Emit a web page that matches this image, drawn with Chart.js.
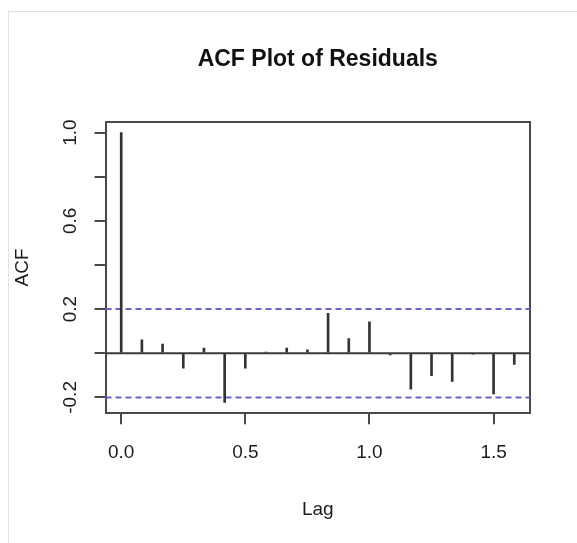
<!DOCTYPE html>
<html><head><meta charset="utf-8">
<script src="https://cdn.jsdelivr.net/npm/chart.js@4.4.0/dist/chart.umd.min.js"></script>
<style>
html,body{margin:0;padding:0;background:#fff;}
#wrap{position:relative;width:577px;height:543px;overflow:hidden;background:#fff;}
#frame{position:absolute;left:8px;top:11px;width:620px;height:600px;border-left:1px solid #e2e2e2;border-top:1px solid #e2e2e2;}
canvas{position:absolute;left:0;top:0;}
</style></head><body>
<div id="wrap"><div id="frame"></div><canvas id="c" width="577" height="543"></canvas></div>
<script>
const chartTitle = 'ACF Plot of Residuals';
const xTitle = 'Lag';
const yTitle = 'ACF';
const lags = [0, 0.0833, 0.1667, 0.25, 0.3333, 0.4167, 0.5, 0.5833, 0.6667, 0.75,
              0.8333, 0.9167, 1.0, 1.0833, 1.1667, 1.25, 1.3333, 1.4167, 1.5, 1.5833];
const acfValues = [1.000, 0.061, 0.042, -0.068, 0.023, -0.223, -0.068, 0.005, 0.024, 0.015,
                   0.181, 0.066, 0.142, -0.007, -0.163, -0.101, -0.128, -0.002, -0.184, -0.050];
const ciBound = 0.2;
const xTicks = [0, 0.5, 1.0, 1.5];
const yTicks = [-0.2, 0, 0.2, 0.4, 0.6, 0.8, 1.0];
const yTicksLabelled = [-0.2, 0.2, 0.6, 1.0];
const xRange = [-0.0633, 1.6467];
const yRange = [-0.272, 1.049];

const AX = '#4a4a4a';
const FAM = '"Liberation Sans", Arial, Helvetica, sans-serif';
const TXT = '#1c1c1c';

new Chart(document.getElementById('c'), {
  type: 'bar',
  data: {
    datasets: [
      { type: 'bar', data: lags.map((x, i) => ({ x: x, y: acfValues[i] })),
        backgroundColor: '#333333', borderWidth: 0, barThickness: 2, order: 1 },
      { type: 'line', data: [{ x: xRange[0], y: 0 }, { x: xRange[1], y: 0 }],
        borderColor: '#3a3a3a', borderWidth: 2, pointRadius: 0, fill: false, order: 2 },
      { type: 'line', data: [{ x: xRange[0], y: ciBound }, { x: xRange[1], y: ciBound }],
        borderColor: '#6464d2', borderWidth: 2, borderDash: [6, 4], pointRadius: 0, fill: false, order: 3 },
      { type: 'line', data: [{ x: xRange[0], y: -ciBound }, { x: xRange[1], y: -ciBound }],
        borderColor: '#6464d2', borderWidth: 2, borderDash: [6, 4], pointRadius: 0, fill: false, order: 3 }
    ]
  },
  options: {
    responsive: false, animation: false, devicePixelRatio: 1,
    layout: { padding: { left: 0, top: 0, right: 47, bottom: 0 } },
    plugins: { legend: { display: false }, tooltip: { enabled: false } },
    scales: {
      x: {
        type: 'linear', position: 'bottom', min: xRange[0], max: xRange[1], offset: false,
        afterBuildTicks: s => { s.ticks = xTicks.map(v => ({ value: v })); },
        afterFit: s => { s.height = 129.7; },
        ticks: { callback: v => Number(v).toFixed(1), font: { family: FAM, size: 19 }, color: TXT,
                 padding: 17, maxRotation: 0, autoSkip: false },
        grid: { display: true, offset: false, drawOnChartArea: false, drawTicks: true, tickLength: 11, color: AX, lineWidth: 2 },
        border: { display: true, color: AX, width: 2 },
        title: { display: true, text: xTitle, font: { family: FAM, size: 19 }, color: TXT,
                 padding: { top: 0, bottom: 22 } }
      },
      x2: {
        type: 'linear', position: 'top', min: xRange[0], max: xRange[1], offset: false,
        ticks: { display: false }, grid: { display: false, offset: false, drawTicks: false },
        border: { display: true, color: AX, width: 2 },
        afterFit: s => { s.height = 121.7; },
        title: { display: true, text: chartTitle, font: { family: FAM, size: 23, weight: 'bold' }, color: '#111',
                 padding: { top: 46, bottom: 0 } }
      },
      y: {
        type: 'linear', position: 'left', min: yRange[0], max: yRange[1],
        afterBuildTicks: s => { s.ticks = yTicks.map(v => ({ value: v })); },
        afterFit: s => { s.width = 105.5; },
        ticks: {
          callback: v => yTicksLabelled.some(t => Math.abs(t - v) < 1e-9) ? Number(v).toFixed(1) : '',
          font: { family: FAM, size: 19 }, color: TXT, padding: 7,
          minRotation: 90, maxRotation: 90, crossAlign: 'center', autoSkip: false
        },
        grid: { display: true, offset: false, drawOnChartArea: false, drawTicks: true, tickLength: 11, color: AX, lineWidth: 2 },
        border: { display: true, color: AX, width: 2 },
        title: { display: true, text: yTitle, font: { family: FAM, size: 19 }, color: TXT,
                 padding: { top: 11.6, bottom: 0 } }
      },
      y2: {
        type: 'linear', position: 'right', min: yRange[0], max: yRange[1],
        ticks: { display: false }, grid: { display: false, drawTicks: false },
        border: { display: true, color: AX, width: 2 },
        afterFit: s => { s.width = 0; }
      }
    }
  }
});
</script>
</body></html>
